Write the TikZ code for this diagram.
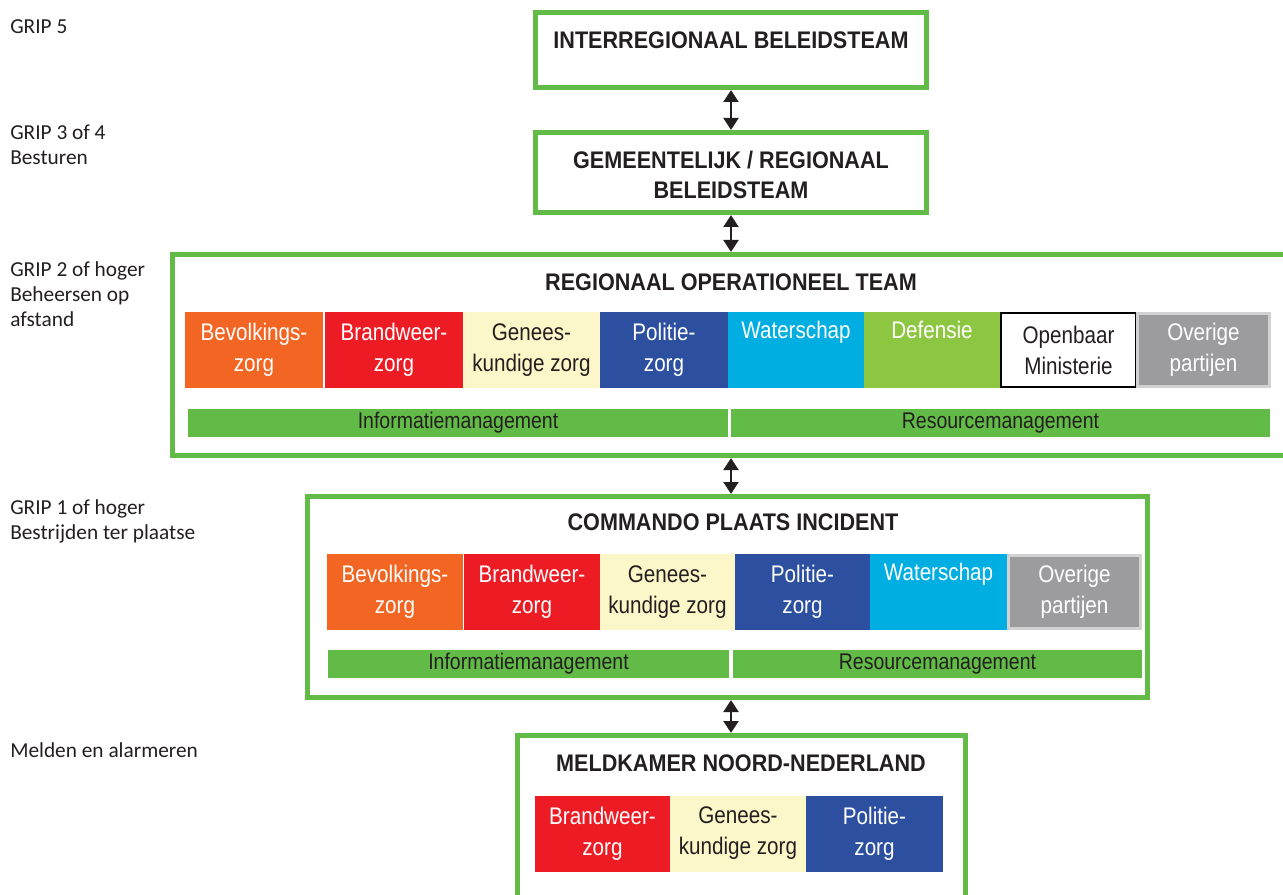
\documentclass[tikz,border=0pt]{standalone}
\usepackage{fontspec}
\usepackage{tikz}
\usetikzlibrary{arrows.meta,positioning}
\newfontfamily\narrowfont{Liberation Sans}[FakeStretch=0.86]
\newfontfamily\headfont{Liberation Sans}[FakeStretch=0.9]
\newfontfamily\gripfont{Carlito}
\definecolor{gripgreen}{HTML}{62BB46}
\definecolor{ink}{HTML}{231F20}
\definecolor{bevorange}{HTML}{F26522}
\definecolor{brwred}{HTML}{ED1C24}
\definecolor{gencream}{HTML}{FCF7C8}
\definecolor{polblue}{HTML}{2C4FA0}
\definecolor{watcyan}{HTML}{00AEE2}
\definecolor{defgreen}{HTML}{8DC641}
\definecolor{ovgray}{HTML}{9C9C9E}
\definecolor{ovedge}{HTML}{D2D2D2}
\newcommand{\pxu}{0.75pt}
\tikzset{
	frame/.style={draw=gripgreen, line width=3.75pt, inner sep=0pt},
	title/.style={text=ink, align=center, font=\headfont\bfseries\fontsize{18}{22.5}\selectfont},
	side/.style={anchor=west, inner sep=0pt, align=left, text=ink, font=\gripfont\fontsize{16}{18.75}\selectfont},
	cel/.style={anchor=west, outer sep=0pt, inner sep=0pt, minimum height=57pt, align=center, text=white, font=\narrowfont\fontsize{18}{23.25}\selectfont},
	bar/.style={fill=gripgreen, text=ink, outer sep=0pt, inner sep=0pt, minimum height=21pt, font=\narrowfont\fontsize{17}{20}\selectfont},
	dbl/.style={draw=ink, line width=2.2pt, {Triangle[width=11pt,length=9pt]}-{Triangle[width=11pt,length=9pt]}}
}
\begin{document}
\begin{tikzpicture}[x=0.75pt,y=-0.75pt]
	\useasboundingbox (0,0) rectangle (1283,895);
	% GRIP levels
	\node[side] (g5) at (10,27) {GRIP 5};
	\node[side] (g34) at (10,144.5) {GRIP 3 of 4\\Besturen};
	\node[side] (g2) at (10,294) {GRIP 2 of hoger\\Beheersen op\\afstand};
	\node[side] (g1) at (10,521.5) {GRIP 1 of hoger\\Bestrijden ter plaatse};
	\node[side] (g0) at (10,750) {Melden en alarmeren};
	% frames
	\node[frame, minimum width=391*\pxu, minimum height=75*\pxu] (ib) at (731,50) {};
	\node[frame, minimum width=391*\pxu, minimum height=80*\pxu] (grb) at (731,172.5) {};
	\node[frame, minimum width=1120*\pxu, minimum height=201*\pxu] (rot) at (732.5,355) {};
	\node[frame, minimum width=840*\pxu, minimum height=201*\pxu] (cpi) at (727.5,597) {};
	\node[frame, minimum width=448*\pxu, minimum height=167*\pxu] (mk) at (741.5,819) {};
	\node[title] (ibt) at (731,40) {INTERREGIONAAL BELEIDSTEAM};
	\node[title] (grbt) at (731,175) {GEMEENTELIJK / REGIONAAL\\BELEIDSTEAM};
	\node[title] (rott) at (731,282) {REGIONAAL OPERATIONEEL TEAM};
	\node[title] (cpit) at (733,522) {COMMANDO PLAATS INCIDENT};
	\node[title] (mkt) at (741,763) {MELDKAMER NOORD-NEDERLAND};
	% arrows
	\draw[dbl] (ib.south) -- (grb.north);
	\draw[dbl] (grb.south) -- (ib.south |- rot.north);
	\draw[dbl] (ib.south |- rot.south) -- (ib.south |- cpi.north);
	\draw[dbl] (ib.south |- cpi.south) -- (ib.south |- mk.north);
	% ROT
	\node[cel, fill=bevorange, minimum width=138*\pxu] (rbev) at (185,350) {Bevolkings-\\zorg};
	\node[cel, fill=brwred, minimum width=138*\pxu, right=1.5pt of rbev] (rbrw) {Brandweer-\\zorg};
	\node[cel, fill=gencream, text=ink, minimum width=137*\pxu, right=0pt of rbrw] (rgen) {Genees-\\kundige zorg};
	\node[cel, fill=polblue, minimum width=128*\pxu, right=0pt of rgen] (rpol) {Politie-\\zorg};
	\node[cel, fill=watcyan, minimum width=136*\pxu, right=0pt of rpol] (rwat) {Waterschap\\\strut};
	\node[cel, fill=defgreen, minimum width=136*\pxu, right=0pt of rwat] (rdef) {Defensie\\\strut};
	\node[cel, draw=black, line width=1.5pt, text=ink, minimum width=135*\pxu, minimum height=55.5pt, right=0.75pt of rdef] (rom) {Openbaar\\Ministerie};
	\node[cel, fill=ovgray, draw=ovedge, line width=2.25pt, minimum width=132*\pxu, minimum height=54.75pt, right=1.1pt of rom] (rov) {Overige\\partijen};
	\node[bar, minimum width=540*\pxu] (rinfo) at (458,423) {Informatiemanagement};
	\node[bar, minimum width=539*\pxu, right=2.25pt of rinfo] (rres) {Resourcemanagement};
	% CoPI
	\node[cel, fill=bevorange, minimum width=136*\pxu] (cbev) at (327,592) {Bevolkings-\\zorg};
	\node[cel, fill=brwred, minimum width=136*\pxu, right=0.75pt of cbev] (cbrw) {Brandweer-\\zorg};
	\node[cel, fill=gencream, text=ink, minimum width=135*\pxu, right=0pt of cbrw] (cgen) {Genees-\\kundige zorg};
	\node[cel, fill=polblue, minimum width=135*\pxu, right=0pt of cgen] (cpol) {Politie-\\zorg};
	\node[cel, fill=watcyan, minimum width=137*\pxu, right=0pt of cpol] (cwat) {Waterschap\\\strut};
	\node[cel, fill=ovgray, draw=ovedge, line width=2.25pt, minimum width=132*\pxu, minimum height=54.75pt, right=1.1pt of cwat] (cov) {Overige\\partijen};
	\node[bar, minimum width=401*\pxu] (cinfo) at (528.5,664) {Informatiemanagement};
	\node[bar, minimum width=409*\pxu, right=3pt of cinfo] (cres) {Resourcemanagement};
	% meldkamer
	\node[cel, fill=brwred, minimum width=135*\pxu] (mbrw) at (535,833.5) {Brandweer-\\zorg};
	\node[cel, fill=gencream, text=ink, minimum width=136*\pxu, right=0pt of mbrw] (mgen) {Genees-\\kundige zorg};
	\node[cel, fill=polblue, minimum width=137*\pxu, right=0pt of mgen] (mpol) {Politie-\\zorg};
\end{tikzpicture}
\end{document}
